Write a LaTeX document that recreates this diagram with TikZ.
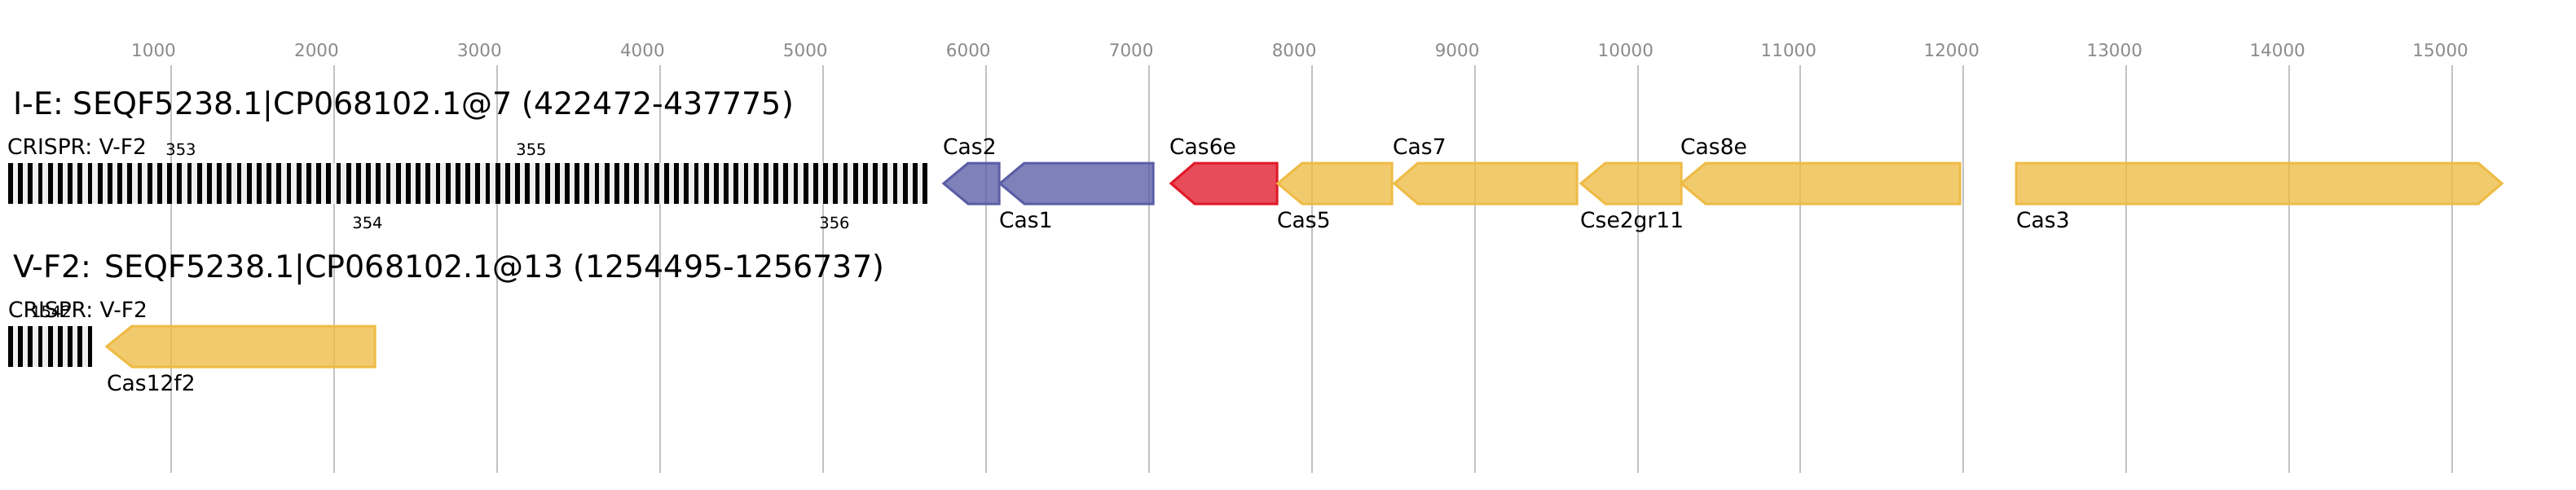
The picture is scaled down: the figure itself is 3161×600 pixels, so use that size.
\documentclass[tikz,border=0pt]{standalone}
\usepackage{fontspec}
\setmainfont{DejaVu Sans}

\definecolor{casblue}{HTML}{5B5EA6}
\definecolor{casred}{HTML}{E0192A}
\definecolor{casyellow}{HTML}{EEBB45}
\definecolor{gridgray}{HTML}{C2C2C2}
\definecolor{ticktext}{HTML}{8A8A8A}
\definecolor{spacergray}{HTML}{EFEFEF}

\tikzset{
  gridline/.style={draw=gridgray, line width=2pt},
  ticklabel/.style={anchor=base west, inner sep=0pt, text=ticktext, font=\fontsize{21.5}{26}\selectfont},
  locustitle/.style={anchor=base west, inner sep=0pt, font=\fontsize{38}{45}\selectfont},
  genelabel/.style={anchor=base west, inner sep=0pt, font=\fontsize{26.5}{31}\selectfont},
  spacernum/.style={anchor=base, inner sep=0pt, font=\fontsize{19.5}{23}\selectfont},
  gene/.style={draw=#1, fill=#1, fill opacity=0.78, line width=3pt},
}

\begin{document}
\begin{tikzpicture}[x=1pt, y=-1pt]
                \useasboundingbox (0,0) rectangle (3161,600);

                % scale and grid
                \foreach \k [evaluate=\k as \lab using int(1000*\k)] in {1,...,15} {
                    \draw[gridline] (10+199.95*\k,80) -- (10+199.95*\k,580);
                    \node[ticklabel] (tick\k) at (10+199.95*\k-49,69) {\lab};
                }

                % locus I-E
                \node[locustitle] (title1) at (16,140) {I-E: SEQF5238.1|CP068102.1@7 (422472-437775)};
                \node[genelabel] (crispr1) at (9,189) {CRISPR: V-F2};
                \fill[spacergray] (10,200) rectangle (1138,250);
                \foreach \i in {0,...,92}
                    \fill (10+12.198*\i,200) rectangle +(5.8,50);
                \node[spacernum] (n353) at (222,190) {353};
                \node[spacernum] (n354) at (451,280) {354};
                \node[spacernum] (n355) at (652,190) {355};
                \node[spacernum] (n356) at (1024,280) {356};

                \filldraw[gene=casblue]   (1158,225) -- (1188,200) -- (1226,200) -- (1226,250) -- (1188,250) -- cycle;
                \filldraw[gene=casblue]   (1227,225) -- (1257,200) -- (1415,200) -- (1415,250) -- (1257,250) -- cycle;
                \filldraw[gene=casred]    (1437,225) -- (1466,200) -- (1567,200) -- (1567,250) -- (1466,250) -- cycle;
                \filldraw[gene=casyellow] (1568,225) -- (1598,200) -- (1708,200) -- (1708,250) -- (1598,250) -- cycle;
                \filldraw[gene=casyellow] (1711,225) -- (1740,200) -- (1935,200) -- (1935,250) -- (1740,250) -- cycle;
                \filldraw[gene=casyellow] (1940,225) -- (1970,200) -- (2063,200) -- (2063,250) -- (1970,250) -- cycle;
                \filldraw[gene=casyellow] (2063,225) -- (2093,200) -- (2405,200) -- (2405,250) -- (2093,250) -- cycle;
                \filldraw[gene=casyellow] (2474,200) -- (3041,200) -- (3070,225) -- (3041,250) -- (2474,250) -- cycle;

                \node[genelabel] (cas2)  at (1157,189) {Cas2};
                \node[genelabel] (cas1)  at (1226,279) {Cas1};
                \node[genelabel] (cas6e) at (1435,189) {Cas6e};
                \node[genelabel] (cas5)  at (1567,279) {Cas5};
                \node[genelabel] (cas7)  at (1709,189) {Cas7};
                \node[genelabel] (cse2)  at (1939,279) {Cse2gr11};
                \node[genelabel] (cas8e) at (2062,189) {Cas8e};
                \node[genelabel] (cas3)  at (2474,279) {Cas3};

                % locus V-F2
                \node[locustitle] (title2) at (16,340) {V-F2: SEQF5238.1|CP068102.1@13 (1254495-1256737)};
                \node[genelabel] (crispr2) at (10,389) {CRISPR: V-F2};
                \fill[spacergray] (10,400) rectangle (113.4,450);
                \foreach \i in {0,...,8}
                    \fill (10+12.198*\i,400) rectangle +(5.8,50);
                \node[spacernum] (n1542) at (63,389) {1542};

                \filldraw[gene=casyellow] (131,425) -- (162,400) -- (460,400) -- (460,450) -- (162,450) -- cycle;
                \node[genelabel] (cas12f2) at (131,479) {Cas12f2};
            \end{tikzpicture}
\end{document}
